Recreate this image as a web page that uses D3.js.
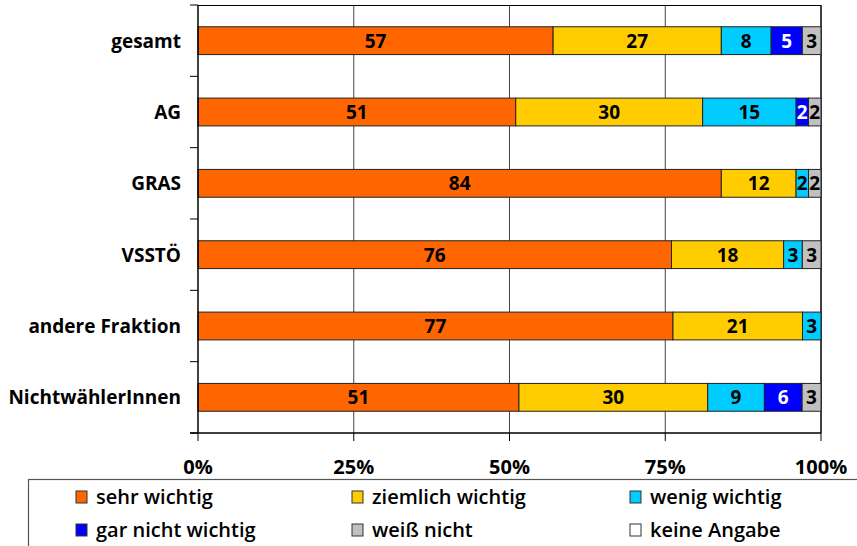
<!DOCTYPE html>
<html>
<head>
<meta charset="utf-8">
<script src="https://cdn.jsdelivr.net/npm/d3@7"></script>
<style>
  body { margin: 0; background: #fff; }
  text { font-family: 'Open Sans', 'DejaVu Sans', sans-serif; }
</style>
</head>
<body>
<div id="chart"></div>
<script>
const categories = ['gesamt', 'AG', 'GRAS', 'VSSTÖ', 'andere Fraktion', 'NichtwählerInnen']
const seriesNames = ['sehr wichtig', 'ziemlich wichtig', 'wenig wichtig', 'gar nicht wichtig', 'weiß nicht', 'keine Angabe']
const sehrWichtig = [57, 51, 84, 76, 77, 51]
const ziemlichWichtig = [27, 30, 12, 18, 21, 30]
const wenigWichtig = [8, 15, 2, 3, 3, 9]
const garNichtWichtig = [5, 2, 0, 0, 0, 6]
const weissNicht = [3, 2, 2, 3, 0, 3]
const keineAngabe = [0, 0, 0, 0, 0, 0]
const tickLabels = ['0%', '25%', '50%', '75%', '100%']
const colors = ['#FF6600', '#FFCC00', '#00CCFF', '#0000FF', '#C0C0C0', '#FFFFFF']

const allSeries = [sehrWichtig, ziemlichWichtig, wenigWichtig, garNichtWichtig, weissNicht, keineAngabe]
const rows = categories.map((c, i) => {
  const row = { cat: c }
  seriesNames.forEach((s, j) => { row[s] = allSeries[j][i] })
  return row
})

const width = 857
const height = 546
const margin = { top: 5, left: 198, right: 36, bottom: 113 }
const innerW = width - margin.left - margin.right
const innerH = height - margin.top - margin.bottom

const svg = d3.select('#chart').append('svg')
  .attr('width', width)
  .attr('height', height)

const g = svg.append('g')
  .attr('transform', 'translate(' + margin.left + ',' + margin.top + ')')

const x = d3.scaleLinear().domain([0, 1]).range([0, innerW])
const y = d3.scaleBand().domain(categories).range([0, innerH]).paddingInner(0.61).paddingOuter(0.305)
const yOuter = d3.scaleBand().domain(categories).range([0, innerH])

// values are normalised to 100% (some rows sum to 99 or 101)
const stack = d3.stack().keys(seriesNames).offset(d3.stackOffsetExpand)
const stacked = stack(rows)

// grid lines
g.selectAll('.grid')
  .data([0.25, 0.5, 0.75])
  .enter().append('line')
  .attr('x1', d => x(d)).attr('x2', d => x(d))
  .attr('y1', 0).attr('y2', innerH)
  .attr('stroke', '#444').attr('stroke-width', 1)

// frame top + right
g.append('line').attr('x1', 0).attr('x2', innerW).attr('y1', 0.5).attr('y2', 0.5)
  .attr('stroke', '#000').attr('stroke-width', 1.2)
g.append('line').attr('x1', innerW).attr('x2', innerW).attr('y1', 0).attr('y2', innerH)
  .attr('stroke', '#000').attr('stroke-width', 1.5)

// bars
const layers = g.selectAll('.layer')
  .data(stacked)
  .enter().append('g')
  .attr('fill', (d, i) => colors[i])

layers.selectAll('rect')
  .data(d => d.map(v => ({ v, key: d.key })))
  .enter().append('rect')
  .attr('x', d => x(d.v[0]))
  .attr('width', d => x(d.v[1]) - x(d.v[0]))
  .attr('y', d => y(d.v.data.cat))
  .attr('height', y.bandwidth())
  .attr('stroke', '#222')
  .attr('stroke-width', 1)
  .filter(d => d.v[1] - d.v[0] <= 0).remove()

// value labels
stacked.forEach((layer, i) => {
  g.selectAll('.lbl' + i)
    .data(layer.filter(v => v.data[layer.key] > 0))
    .enter().append('text')
    .attr('x', v => (x(v[0]) + x(v[1])) / 2)
    .attr('y', v => y(v.data.cat) + y.bandwidth() / 2)
    .attr('dy', '0.36em')
    .attr('text-anchor', 'middle')
    .attr('font-size', 19)
    .attr('font-weight', 700)
    .attr('fill', i === 3 ? '#fff' : '#000')
    .text(v => v.data[layer.key])
})

// y axis
g.append('line').attr('x1', 0).attr('x2', 0).attr('y1', 0).attr('y2', innerH)
  .attr('stroke', '#000').attr('stroke-width', 1.5)
g.selectAll('.ytick')
  .data(d3.range(categories.length + 1))
  .enter().append('line')
  .attr('x1', -8).attr('x2', 0)
  .attr('y1', i => i * yOuter.step()).attr('y2', i => i * yOuter.step())
  .attr('stroke', '#000')

g.selectAll('.cat')
  .data(categories)
  .enter().append('text')
  .attr('x', -17)
  .attr('y', d => y(d) + y.bandwidth() / 2)
  .attr('dy', '0.36em')
  .attr('text-anchor', 'end')
  .attr('font-size', 19)
  .attr('font-weight', 700)
  .text(d => d)

// x axis
g.append('line').attr('x1', -8).attr('x2', innerW).attr('y1', innerH).attr('y2', innerH)
  .attr('stroke', '#000').attr('stroke-width', 1.5)
g.selectAll('.xtick')
  .data(tickLabels)
  .enter().append('line')
  .attr('x1', (d, i) => x(i / 4)).attr('x2', (d, i) => x(i / 4))
  .attr('y1', innerH).attr('y2', innerH + 8)
  .attr('stroke', '#000')
g.selectAll('.xlbl')
  .data(tickLabels)
  .enter().append('text')
  .attr('x', (d, i) => x(i / 4))
  .attr('y', innerH + 41)
  .attr('text-anchor', 'middle')
  .attr('font-size', 20)
  .attr('font-weight', 700)
  .text(d => d)

// legend
const legend = svg.append('g')
legend.append('rect')
  .attr('x', 28.5).attr('y', 479.5)
  .attr('width', 840).attr('height', 80)
  .attr('fill', 'none').attr('stroke', '#555').attr('stroke-width', 1.2)

const legendX = [76, 352, 630]
const legendY = [497, 530]
const items = legend.selectAll('.item')
  .data(seriesNames)
  .enter().append('g')
  .attr('transform', (d, i) => 'translate(' + legendX[i % 3] + ',' + legendY[Math.floor(i / 3)] + ')')
items.append('rect')
  .attr('x', 0).attr('y', -6)
  .attr('width', 11).attr('height', 12)
  .attr('fill', (d, i) => colors[i])
  .attr('stroke', '#333')
items.append('text')
  .attr('x', 20)
  .attr('dy', '0.36em')
  .attr('font-size', 20)
  .attr('font-weight', 600)
  .text(d => d)
</script>
</body>
</html>
